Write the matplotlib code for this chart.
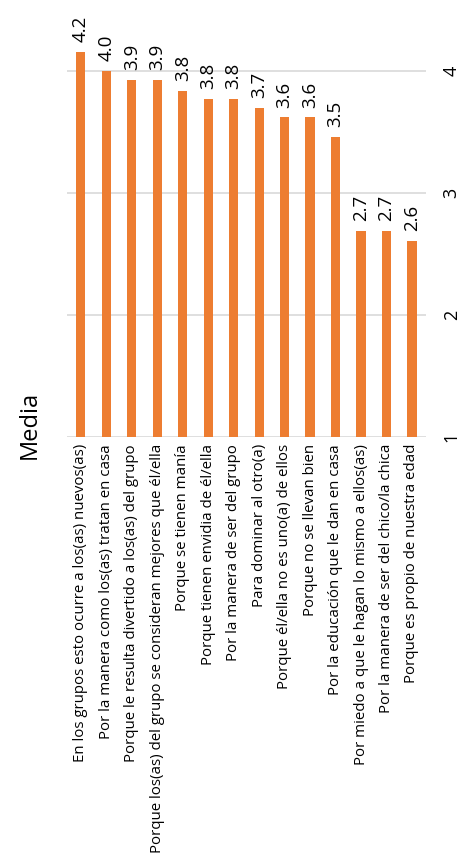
import matplotlib
matplotlib.use("Agg")
import matplotlib.pyplot as plt

plt.rcParams['font.family'] = ['Open Sans', 'DejaVu Sans']

categories = [
    "En los grupos esto ocurre a los(as) nuevos(as)",
    "Por la manera como los(as) tratan en casa",
    "Porque le resulta divertido a los(as) del grupo",
    "Porque los(as) del grupo se consideran mejores que él/ella",
    "Porque se tienen manía",
    "Porque tienen envidia de él/ella",
    "Por la manera de ser del grupo",
    "Para dominar al otro(a)",
    "Porque él/ella no es uno(a) de ellos",
    "Porque no se llevan bien",
    "Por la educación que le dan en casa",
    "Por miedo a que le hagan lo mismo a ellos(as)",
    "Por la manera de ser del chico/la chica",
    "Porque es propio de nuestra edad",
]
values = [4.16, 4.00, 3.93, 3.93, 3.84, 3.77, 3.77, 3.70, 3.62, 3.62, 3.46, 2.69, 2.69, 2.61]
yticks = [1, 2, 3, 4]

fig = plt.figure(figsize=(4.61, 8.56), dpi=100)
ax = fig.add_axes([0.145, 0.4895, 0.779, 0.4915])

x = list(range(len(categories)))
ax.bar(x, values, width=0.36, color='#ED7D31', zorder=3)
ax.set_ylim(1, 4.45)
ax.set_xlim(-0.55, len(categories) - 0.45)
ax.set_yticks(yticks)
ax.set_yticklabels([str(t) for t in yticks], rotation=90, fontsize=13, va='center')
ax.yaxis.tick_right()
ax.tick_params(axis='y', length=0, pad=12)
ax.grid(axis='y', color='#d9d9d9', linewidth=1.2, zorder=0)
ax.set_xticks(x)
ax.set_xticklabels(categories, rotation=90, fontsize=10.8, ha='center', va='top')
ax.tick_params(axis='x', length=0, pad=5)
for s in ax.spines.values():
    s.set_visible(False)

for xi, v in zip(x, values):
    ax.text(xi, v + 0.08, f"{v:.1f}", rotation=90, ha='center', va='bottom',
            fontsize=13.5, clip_on=False)

fig.text(30 / 461, 1 - 425 / 856, "Media", rotation=90, fontsize=17,
         ha='center', va='center')

fig.savefig("out.png", dpi=100)
